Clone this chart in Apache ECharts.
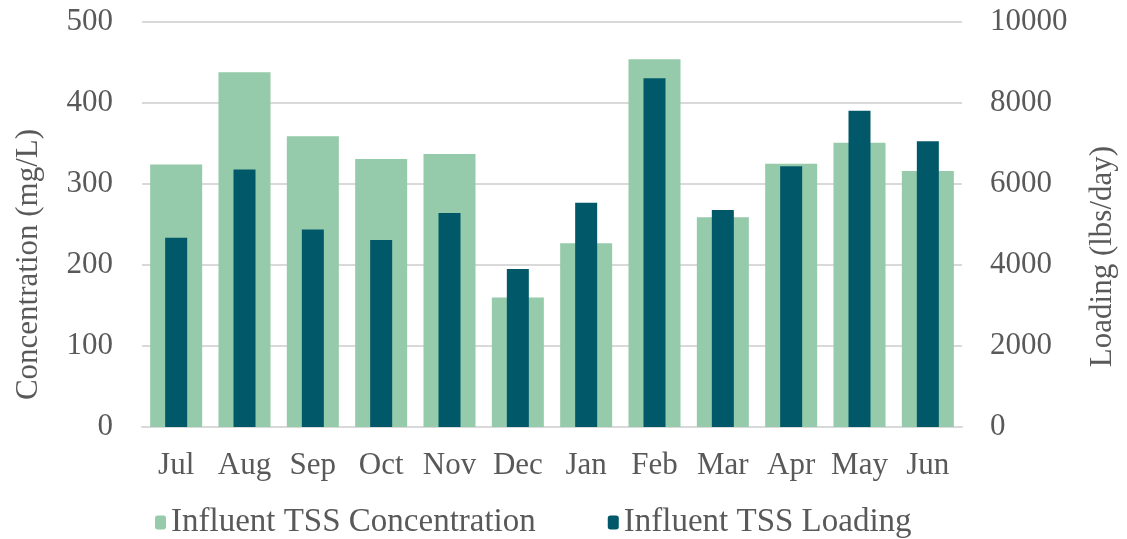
<!DOCTYPE html>
<html>
<head>
<meta charset="utf-8">
<script src="https://cdn.jsdelivr.net/npm/echarts@6/dist/echarts.min.js"></script>
<style>
  html, body { margin: 0; padding: 0; background: #fff; }
  #main { width: 1127px; height: 539px; }
</style>
</head>
<body>
<div id="main"></div>
<script>
var months = ['Jul', 'Aug', 'Sep', 'Oct', 'Nov', 'Dec', 'Jan', 'Feb', 'Mar', 'Apr', 'May', 'Jun'];
var concentration = [324, 438, 359, 331, 337, 160, 227, 454, 259, 325, 351, 316];
var loading = [4670, 6355, 4875, 4615, 5285, 3900, 5540, 8610, 5360, 6440, 7810, 7055];
var concTicks = [0, 100, 200, 300, 400, 500];
var loadTicks = [0, 2000, 4000, 6000, 8000, 10000];

var textColor = '#595959';
var font = 'Liberation Serif, Times New Roman, serif';

var myChart = echarts.init(document.getElementById('main'));

var option = {
  textStyle: { fontFamily: font, color: textColor },
  grid: { left: 142, right: 165, top: 22, bottom: 112 },
  legend: {
    bottom: -5,
    left: 150,
    itemGap: 72,
    itemWidth: 11,
    itemHeight: 14,
    textStyle: { fontFamily: font, fontSize: 33, color: textColor },
    data: ['Influent TSS Concentration', 'Influent TSS Loading']
  },
  xAxis: [{
    type: 'category',
    data: months,
    axisLine: { lineStyle: { color: '#d9d9d9', width: 2 } },
    axisTick: { show: false },
    axisLabel: { fontFamily: font, fontSize: 31, color: textColor, margin: 23, interval: 0 }
  }, {
    type: 'category',
    data: months,
    show: false
  }],
  yAxis: [{
    type: 'value',
    min: concTicks[0],
    max: concTicks[concTicks.length - 1],
    interval: 100,
    name: 'Concentration (mg/L)',
    nameLocation: 'middle',
    nameGap: 98,
    nameTextStyle: { fontFamily: font, fontSize: 31, color: textColor, padding: [0, 80, 0, 0] },
    axisLine: { show: false },
    axisTick: { show: false },
    splitLine: { lineStyle: { color: '#d9d9d9', width: 2 } },
    axisLabel: { fontFamily: font, fontSize: 31, color: textColor, margin: 29 }
  }, {
    type: 'value',
    min: loadTicks[0],
    max: loadTicks[loadTicks.length - 1],
    interval: 2000,
    name: 'Loading (lbs/day)',
    nameLocation: 'middle',
    nameGap: 125,
    nameRotate: 90,
    nameTextStyle: { fontFamily: font, fontSize: 31, color: textColor, padding: [0, 64, 0, 0] },
    axisLine: { show: false },
    axisTick: { show: false },
    splitLine: { show: false },
    axisLabel: {
      fontFamily: font, fontSize: 31, color: textColor, margin: 28,
      formatter: function (v) { return String(v); }
    }
  }],
  series: [{
    name: 'Influent TSS Concentration',
    type: 'bar',
    xAxisIndex: 0,
    yAxisIndex: 0,
    barWidth: 52,
    itemStyle: { color: '#95caaa' },
    data: concentration
  }, {
    name: 'Influent TSS Loading',
    type: 'bar',
    xAxisIndex: 1,
    yAxisIndex: 1,
    barWidth: 22,
    itemStyle: { color: '#005868' },
    data: loading
  }]
};
myChart.setOption(option);
</script>
</body>
</html>
